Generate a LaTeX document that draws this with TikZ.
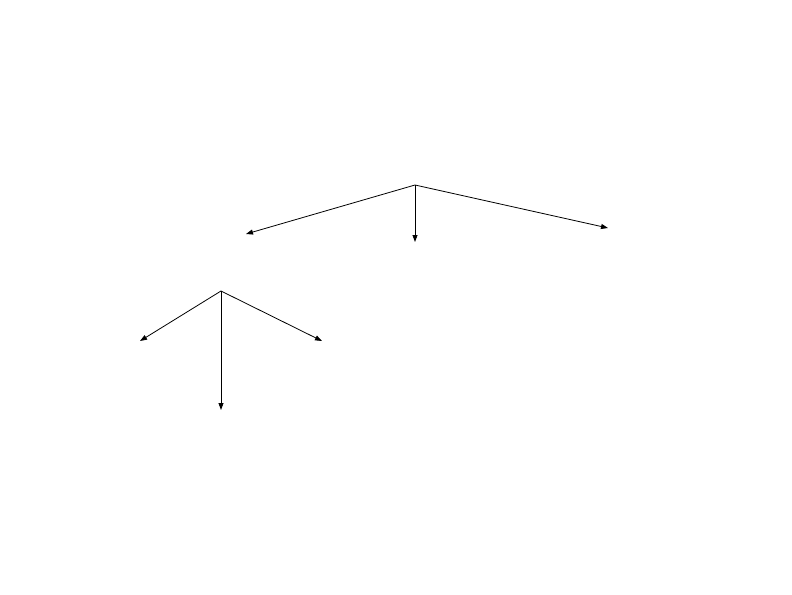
\documentclass[tikz,border=0pt]{standalone}
\usetikzlibrary{arrows.meta}
\begin{document}
\begin{tikzpicture}[x=1pt,y=-1pt,
  link/.style={draw=black,line width=0.8pt,-{Triangle[length=7pt,width=5pt]}}]
\useasboundingbox (0,0) rectangle (792,594);
\coordinate (r1) at (415,185);
\coordinate (a1) at (246,234);
\coordinate (a2) at (415,242);
\coordinate (a3) at (608,228);
\coordinate (r2) at (221,291);
\coordinate (b1) at (140,341);
\coordinate (b2) at (221,410);
\coordinate (b3) at (322,341);
\draw[link] (r1) -- (a1);
\draw[link] (r1) -- (a2);
\draw[link] (r1) -- (a3);
\draw[link] (r2) -- (b1);
\draw[link] (r2) -- (b2);
\draw[link] (r2) -- (b3);
\end{tikzpicture}
\end{document}
